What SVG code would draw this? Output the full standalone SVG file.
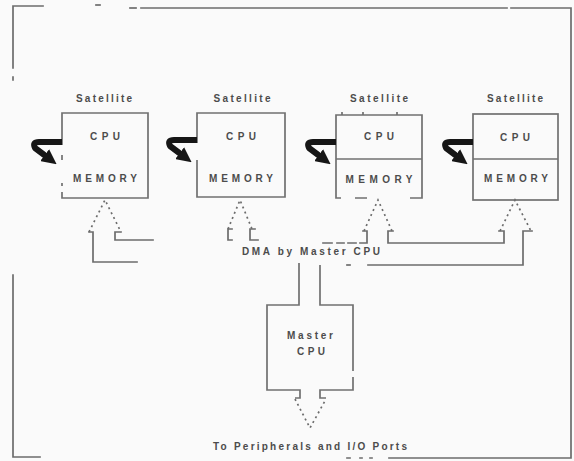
<svg xmlns="http://www.w3.org/2000/svg" width="574" height="461" viewBox="0 0 574 461">
  <defs>
    <style>
      .ln { fill: none; stroke: #6c6c6c; stroke-width: 1.7; stroke-linecap: square; }
      .dot { fill: none; stroke: #6c6c6c; stroke-width: 1.7; stroke-dasharray: 2 3.5; }
      .box { fill: none; stroke: #707070; stroke-width: 1.7; }
      .lbl { font-family: "Liberation Sans", Arial, sans-serif; font-weight: bold; font-size: 10px; fill: #4c4c4c; }
      .hook { fill: none; stroke: #161616; stroke-width: 6; stroke-linejoin: round; }
    </style>
    <marker id="head" markerUnits="userSpaceOnUse" markerWidth="15" markerHeight="15" viewBox="0 0 10 10" refX="2" refY="5" orient="auto">
      <path d="M0,0 L10,5 L0,10 z" fill="#161616"/>
    </marker>
    <!-- bent feedback arrow: leaves a box on its left edge and re-enters lower down -->
    <path id="hookArrow" class="hook" d="M0,0 H-23 Q-30,0 -27,6 L-15,15" marker-end="url(#head)"/>
  </defs>

  <rect width="574" height="461" fill="#fafafa"/>

  <!-- outer frame -->
  <g id="frame" class="ln">
    <path d="M13,68 V6 H43"/>
    <path d="M96,5 H100"/>
    <path d="M130,8 H136"/>
    <path d="M141,8 H507"/>
    <path d="M511,8 H571 V458 H389"/>
    <path d="M13,77 V80"/>
    <path d="M13,275 V457 H40"/>
    <path d="M347,458 H350 M360,458 H362 M370,458 H372"/>
  </g>

  <!-- satellite 1 -->
  <g id="sat1">
    <text class="lbl" x="104" y="102" text-anchor="middle" textLength="56" lengthAdjust="spacing">Satellite</text>
    <path class="box" d="M62,145 V113 H148 V198 H62 V192 M62,186 V183 M62,160 V155"/>
    <text class="lbl" x="105" y="140" text-anchor="middle" textLength="30" lengthAdjust="spacing">CPU</text>
    <text class="lbl" x="105" y="182" text-anchor="middle" textLength="64" lengthAdjust="spacing">MEMORY</text>
  </g>

  <!-- satellite 2 -->
  <g id="sat2">
    <text class="lbl" x="242" y="102" text-anchor="middle" textLength="57" lengthAdjust="spacing">Satellite</text>
    <path class="box" d="M197,143 V113 H285 V197 H197 V160"/>
    <text class="lbl" x="241" y="140" text-anchor="middle" textLength="30" lengthAdjust="spacing">CPU</text>
    <text class="lbl" x="241" y="182" text-anchor="middle" textLength="64" lengthAdjust="spacing">MEMORY</text>
  </g>

  <!-- satellite 3 -->
  <g id="sat3">
    <text class="lbl" x="379" y="102" text-anchor="middle" textLength="58" lengthAdjust="spacing">Satellite</text>
    <path class="box" d="M341,198 H336 V115 H422 V198 H410 M355,198 H367"/>
    <path class="box" d="M336,159 H422"/>
    <path class="box" d="M342,112 V115 M363,112 V115 M397,112 V115"/>
    <text class="lbl" x="379" y="140" text-anchor="middle" textLength="30" lengthAdjust="spacing">CPU</text>
    <text class="lbl" x="379" y="183" text-anchor="middle" textLength="67" lengthAdjust="spacing">MEMORY</text>
  </g>

  <!-- satellite 4 -->
  <g id="sat4">
    <text class="lbl" x="515" y="102" text-anchor="middle" textLength="56" lengthAdjust="spacing">Satellite</text>
    <rect class="box" x="473" y="114" width="85" height="86"/>
    <path class="box" d="M473,159 H558"/>
    <text class="lbl" x="515" y="141" text-anchor="middle" textLength="30" lengthAdjust="spacing">CPU</text>
    <text class="lbl" x="516" y="182" text-anchor="middle" textLength="64" lengthAdjust="spacing">MEMORY</text>
  </g>

  <!-- master -->
  <g id="master">
    <path class="box" d="M299,263 V305 H267 V390 H300 V398 H295"/>
    <path class="box" d="M320,265 V305 H353 V371 M353,377 V390 H320 V398 H326"/>
    <text class="lbl" x="310" y="339" text-anchor="middle" textLength="46" lengthAdjust="spacing">Master</text>
    <text class="lbl" x="311" y="355" text-anchor="middle" textLength="28" lengthAdjust="spacing">CPU</text>
  </g>

  <!-- connectors -->
  <g id="connectors">
    <!-- feedback arrows on each satellite -->
    <use href="#hookArrow" transform="translate(62,142)"/>
    <use href="#hookArrow" transform="translate(197,140)"/>
    <use href="#hookArrow" transform="translate(336,142)"/>
    <use href="#hookArrow" transform="translate(473,142)"/>

    <!-- hollow DMA bus: solid walls -->
    <path class="ln" d="M137,262 H93 V232 H89"/>
    <path class="ln" d="M121,232 H115 V240 H153"/>
    <path class="ln" d="M232,229 H228 V240 H232"/>
    <path class="ln" d="M255,229 H250 V240 H258"/>
    <path class="ln" d="M323,243 H332 M337,243 H344 M348,243 H356 M360,243 H367 V231 H363"/>
    <path class="ln" d="M393,231 H388 V243 H504 V231 H499"/>
    <path class="ln" d="M532,231 H523 V265 H368"/>
    <path class="ln" d="M347,265 H350"/>

    <!-- dotted arrowheads -->
    <path class="dot" d="M89,232 L105,200 L121,232"/>
    <path class="dot" d="M228,229 L240,200 L252,229"/>
    <path class="dot" d="M364,231 L378,200 L392,231"/>
    <path class="dot" d="M500,231 L515,200 L531,231"/>
    <path class="dot" d="M295,399 L310,428 L326,399"/>

    <text class="lbl" x="311" y="255" text-anchor="middle" textLength="138" lengthAdjust="spacing">DMA by Master CPU</text>
    <text class="lbl" x="310" y="450" text-anchor="middle" textLength="194" lengthAdjust="spacing">To Peripherals and I/O Ports</text>
  </g>
</svg>
